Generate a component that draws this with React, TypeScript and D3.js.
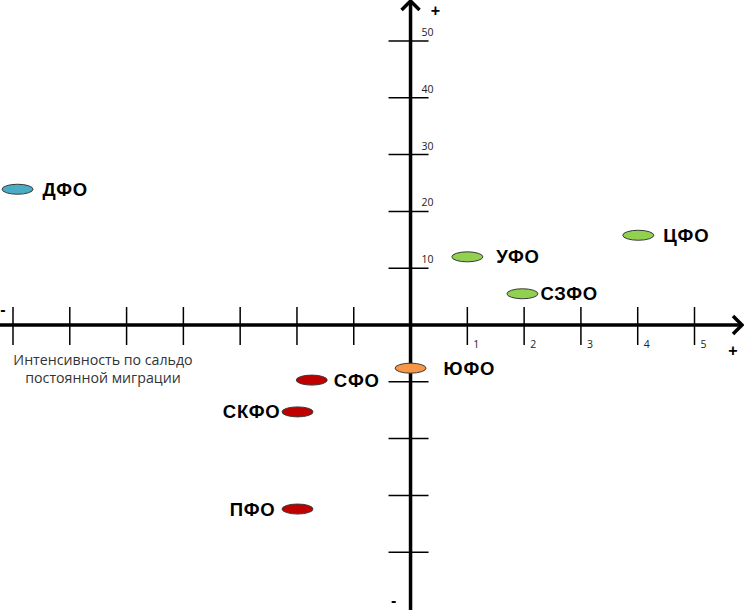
import React, { useEffect, useRef } from "react";
import * as d3 from "d3";

const regions = ["ДФО", "УФО", "ЦФО", "СЗФО", "ЮФО", "СФО", "СКФО", "ПФО"];
const xValues = [-6.92, 1.0, 4.01, 1.97, 0.0, -1.74, -1.99, -1.99];
const yValues = [23.9, 12.0, 15.8, 5.5, -7.6, -9.7, -15.3, -32.4];
const groups = ["blue", "green", "green", "green", "orange", "red", "red", "red"];

const xTicks = [-7, -6, -5, -4, -3, -2, -1, 1, 2, 3, 4, 5];
const xTickLabels = ["1", "2", "3", "4", "5"];
const yTicks = [-40, -30, -20, -10, 10, 20, 30, 40, 50];
const yTickLabels = ["10", "20", "30", "40", "50"];
const axisTitle = ["Интенсивность по сальдо", "постоянной миграции"];

// label placement: dx from point center (negative = label on the left)
const labelOffsets: Record<string, number> = {
  "ДФО": 25, "УФО": 29, "ЦФО": 25, "СЗФО": 18, "ЮФО": 33, "СФО": 22, "СКФО": -17, "ПФО": -22,
};

const App = () => {
  const ref = useRef<SVGSVGElement>(null);

  useEffect(() => {
    const width = 744;
    const height = 610;
    const svg = d3.select(ref.current).html("");

    const x = d3.scaleLinear().domain([-7, 5]).range([13, 694.5]);
    const y = d3.scaleLinear().domain([-50, 50]).range([609, 41]);

    const color = d3
      .scaleOrdinal<string>()
      .domain(["blue", "green", "orange", "red"])
      .range(["#4bacc6", "#92d050", "#f79646", "#c00000"]);

    const x0 = x(0);
    const y0 = y(0);
    const bold = "'Liberation Sans', Arial, sans-serif";
    const light = "'Open Sans', sans-serif";

    // x ticks
    svg.append("g")
      .selectAll("line")
      .data(xTicks)
      .join("line")
      .attr("x1", (d) => x(d))
      .attr("x2", (d) => x(d))
      .attr("y1", y0 - 18)
      .attr("y2", y0 + 20)
      .attr("stroke", "#000")
      .attr("stroke-width", 1.5);

    svg.append("g")
      .selectAll("text")
      .data(xTickLabels)
      .join("text")
      .attr("x", (d) => x(+d) + 6)
      .attr("y", y0 + 23)
      .attr("font-family", light)
      .attr("font-size", 10.5)
      .attr("fill", "#222")
      .text((d) => d);

    // y ticks
    svg.append("g")
      .selectAll("line")
      .data(yTicks)
      .join("line")
      .attr("x1", x0 - 22)
      .attr("x2", x0 + 18)
      .attr("y1", (d) => y(d))
      .attr("y2", (d) => y(d))
      .attr("stroke", "#000")
      .attr("stroke-width", 1.5);

    svg.append("g")
      .selectAll("text")
      .data(yTickLabels)
      .join("text")
      .attr("x", x0 + 11)
      .attr("y", (d) => y(+d) - 5)
      .attr("font-family", light)
      .attr("font-size", 10.5)
      .attr("fill", "#222")
      .text((d) => d);

    // axes
    svg.append("line")
      .attr("x1", 0).attr("x2", width - 2)
      .attr("y1", y0).attr("y2", y0)
      .attr("stroke", "#000").attr("stroke-width", 3.5);
    svg.append("line")
      .attr("x1", x0).attr("x2", x0)
      .attr("y1", 1).attr("y2", height)
      .attr("stroke", "#000").attr("stroke-width", 3.5);

    // arrow heads
    svg.append("path")
      .attr("d", `M${x0 - 9},${10} L${x0},${1} L${x0 + 9},${10}`)
      .attr("fill", "none").attr("stroke", "#000").attr("stroke-width", 3.5);
    svg.append("path")
      .attr("d", `M${width - 11},${y0 - 9} L${width - 2},${y0} L${width - 11},${y0 + 9}`)
      .attr("fill", "none").attr("stroke", "#000").attr("stroke-width", 3.5);

    const signs = [
      { t: "+", x: x0 + 25, y: 16 },
      { t: "+", x: width - 11, y: y0 + 31 },
      { t: "-", x: 3, y: y0 - 10 },
      { t: "-", x: x0 - 17, y: height - 4 },
    ];
    svg.append("g")
      .selectAll("text")
      .data(signs)
      .join("text")
      .attr("x", (d) => d.x)
      .attr("y", (d) => d.y)
      .attr("text-anchor", "middle")
      .attr("font-family", bold)
      .attr("font-size", 16)
      .attr("font-weight", "bold")
      .attr("fill", "#000")
      .text((d) => d.t);

    // axis title
    svg.append("text")
      .attr("font-family", light)
      .attr("font-size", 14.2)
      .attr("fill", "#333")
      .attr("text-anchor", "middle")
      .selectAll("tspan")
      .data(axisTitle)
      .join("tspan")
      .attr("x", 103)
      .attr("y", (d, i) => 365 + i * 18)
      .text((d) => d);

    // points
    const pts = regions.map((name, i) => ({
      name,
      x: xValues[i],
      y: yValues[i],
      group: groups[i],
    }));

    svg.append("g")
      .selectAll("ellipse")
      .data(pts)
      .join("ellipse")
      .attr("cx", (d) => x(d.x))
      .attr("cy", (d) => y(d.y))
      .attr("rx", 15.5)
      .attr("ry", 5)
      .attr("fill", (d) => color(d.group))
      .attr("stroke", "#3a3a3a")
      .attr("stroke-width", 1);

    svg.append("g")
      .selectAll("text")
      .data(pts)
      .join("text")
      .attr("x", (d) => x(d.x) + labelOffsets[d.name])
      .attr("y", (d) => y(d.y) + 6.5)
      .attr("text-anchor", (d) => (labelOffsets[d.name] < 0 ? "end" : "start"))
      .attr("font-family", bold)
      .attr("font-size", 18.5)
      .attr("letter-spacing", 0.8)
      .attr("font-weight", "bold")
      .attr("fill", "#000")
      .text((d) => d.name);
  }, []);

  return (
    <svg
      ref={ref}
      width={744}
      height={610}
      style={{ position: "absolute", left: 0, top: 0, background: "#fff" }}
    />
  );
};

export default App;
